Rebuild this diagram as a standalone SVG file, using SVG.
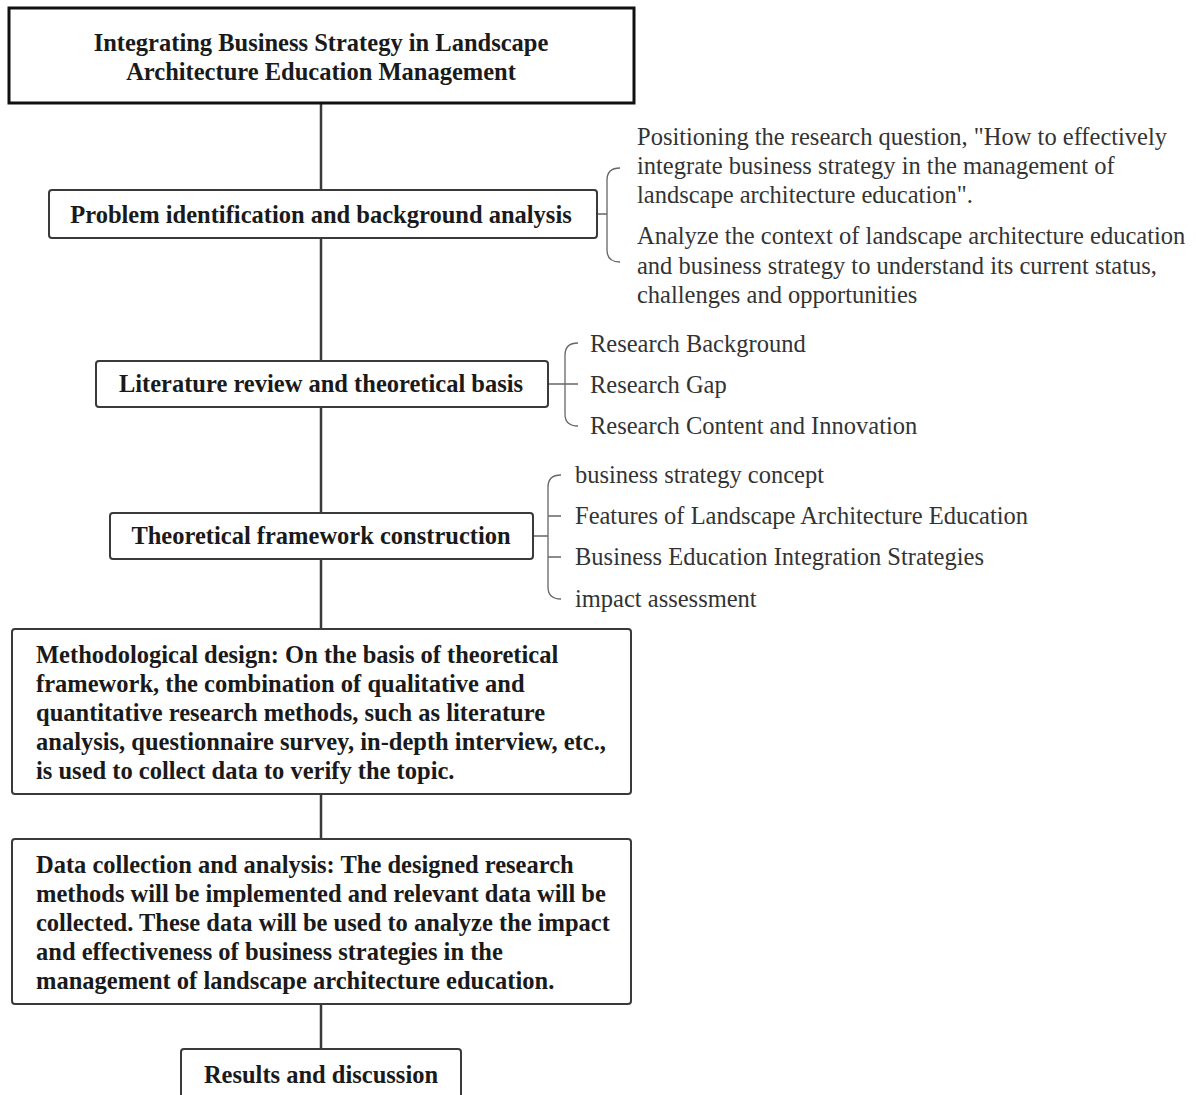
<svg xmlns="http://www.w3.org/2000/svg" width="1196" height="1095" viewBox="0 0 1196 1095">
<style>
.box{fill:#fff;stroke:#3a3a3a;stroke-width:2}
.title{fill:#fff;stroke:#111;stroke-width:3}
.b{font-family:"Liberation Serif","Times New Roman",serif;font-weight:bold;font-size:24.5px;fill:#1a1a1a}
.r{font-family:"Liberation Serif","Times New Roman",serif;font-size:24.5px;fill:#333}
.main{stroke:#3a3a3a;stroke-width:2.5;fill:none}
.br{stroke:#666;stroke-width:1.3;fill:none}
</style>
<rect width="1196" height="1095" fill="#fff"/>
<g id="connectors">
<line class="main" x1="321" y1="103" x2="321" y2="1049"/>
<path class="br" d="M597,214 H607 M620,168 Q607,168 607,180 V250 Q607,262 620,262"/>
<path class="br" d="M548,384 H578 M578,343 Q565,343 565,355 V414 Q565,426 578,426"/>
<path class="br" d="M533,536 H548 M561,475 Q548,475 548,487 V587 Q548,599 561,599 M548,516 H561 M548,557 H561"/>
</g>
<g id="n-title">
<rect class="title" x="9" y="8" width="625" height="95"/>
<text class="b" x="321" y="51" text-anchor="middle">Integrating Business Strategy in Landscape</text>
<text class="b" x="321" y="80" text-anchor="middle">Architecture Education Management</text>
</g>
<g id="n-problem">
<rect class="box" x="49" y="190" width="548" height="48" rx="3"/>
<text class="b" x="321" y="223" text-anchor="middle">Problem identification and background analysis</text>
</g>
<g id="n-problem-items">
<text class="r" x="637" y="145">Positioning the research question, "How to effectively</text>
<text class="r" x="637" y="174">integrate business strategy in the management of</text>
<text class="r" x="637" y="203">landscape architecture education".</text>
<text class="r" x="637" y="244">Analyze the context of landscape architecture education</text>
<text class="r" x="637" y="274">and business strategy to understand its current status,</text>
<text class="r" x="637" y="303">challenges and opportunities</text>
</g>
<g id="n-literature">
<rect class="box" x="96" y="361" width="452" height="46" rx="3"/>
<text class="b" x="321" y="392" text-anchor="middle">Literature review and theoretical basis</text>
</g>
<g id="n-literature-items">
<text class="r" x="590" y="352">Research Background</text>
<text class="r" x="590" y="393">Research Gap</text>
<text class="r" x="590" y="434">Research Content and Innovation</text>
</g>
<g id="n-framework">
<rect class="box" x="110" y="513" width="423" height="46" rx="3"/>
<text class="b" x="321" y="544" text-anchor="middle">Theoretical framework construction</text>
</g>
<g id="n-framework-items">
<text class="r" x="575" y="483">business strategy concept</text>
<text class="r" x="575" y="524">Features of Landscape Architecture Education</text>
<text class="r" x="575" y="565">Business Education Integration Strategies</text>
<text class="r" x="575" y="607">impact assessment</text>
</g>
<g id="n-method">
<rect class="box" x="12" y="629" width="619" height="165" rx="3"/>
<text class="b" x="36" y="663">Methodological design: On the basis of theoretical</text>
<text class="b" x="36" y="692">framework, the combination of qualitative and</text>
<text class="b" x="36" y="721">quantitative research methods, such as literature</text>
<text class="b" x="36" y="750">analysis, questionnaire survey, in-depth interview, etc.,</text>
<text class="b" x="36" y="779">is used to collect data to verify the topic.</text>
</g>
<g id="n-data">
<rect class="box" x="12" y="839" width="619" height="165" rx="3"/>
<text class="b" x="36" y="873">Data collection and analysis: The designed research</text>
<text class="b" x="36" y="902">methods will be implemented and relevant data will be</text>
<text class="b" x="36" y="931">collected. These data will be used to analyze the impact</text>
<text class="b" x="36" y="960">and effectiveness of business strategies in the</text>
<text class="b" x="36" y="989">management of landscape architecture education.</text>
</g>
<g id="n-results">
<rect class="box" x="181" y="1049" width="280" height="60" rx="3"/>
<text class="b" x="321" y="1083" text-anchor="middle">Results and discussion</text>
</g>
</svg>
